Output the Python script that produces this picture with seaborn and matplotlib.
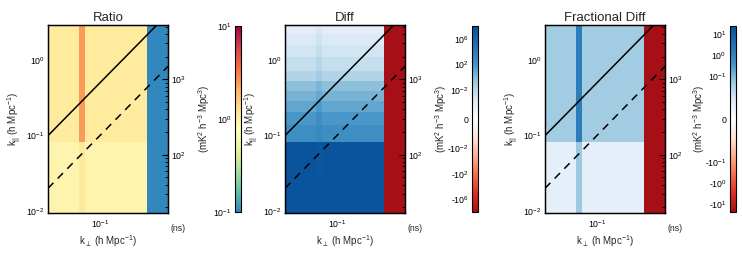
import numpy as np
import matplotlib as mpl
import matplotlib.pyplot as plt
import seaborn as sns
from matplotlib.colors import LogNorm, SymLogNorm

# cell edges (h Mpc^-1)
kperp_edges = [0.02, 0.052, 0.063, 0.43, 0.83]
kpar_edges = [0.0094, 0.0275, 0.083, 0.14, 0.203, 0.284, 0.386, 0.525, 0.71, 1.1, 1.6, 2.2, 2.93]

# values per k_par row, bottom -> top; "band" is the narrow column, "wedge" the right block
ratio_bg = [0.93, 0.93, 1.08, 1.08, 1.08, 1.08, 1.08, 1.08, 1.08, 1.08, 1.08, 1.08]
ratio_band = [1.12, 1.12, 2.5, 2.5, 2.5, 2.5, 2.5, 2.5, 2.5, 2.5, 2.5, 2.5]
ratio_wedge = 0.1

diff_bg = [5e7, 5e7, 300, 80, 15, 2.9, 0.55, 0.027, 3.6e-3, 8e-4, 3e-4, 1e-4]
diff_band = [5e7, 3e7, 1200, 320, 60, 12, 2.2, 0.11, 0.014, 3e-3, 1.2e-3, 4e-4]
diff_wedge = -1e8

frac_bg = [0.014, 0.014, 0.05, 0.05, 0.05, 0.05, 0.05, 0.05, 0.05, 0.05, 0.05, 0.05]
frac_band = [0.056, 0.056, 1.43, 1.43, 1.43, 1.43, 1.43, 1.43, 1.43, 1.43, 1.43, 1.43]
frac_wedge = -25

horizon_slope = 5.0
buffer_slope = 1.0
delay_per_kpar = 1790.0  # ns per h Mpc^-1

ratio_ticks = [0.1, 1, 10]
ratio_labels = ["10$^{-1}$", "10$^{0}$", "10$^{1}$"]
diff_ticks = [1e6, 1e2, 1e-2, 0, -1e-2, -1e2, -1e6]
diff_labels = ["10$^{6}$", "10$^{2}$", "10$^{-2}$", "0", "-10$^{-2}$", "-10$^{2}$", "-10$^{6}$"]
frac_ticks = [10, 1, 0.1, 0, -0.1, -1, -10]
frac_labels = ["10$^{1}$", "10$^{0}$", "10$^{-1}$", "0", "-10$^{-1}$", "-10$^{0}$", "-10$^{1}$"]

sns.set_style("ticks")
mpl.rcParams.update({
    "font.family": ["Liberation Sans", "DejaVu Sans"],
    "font.size": 7,
    "mathtext.default": "regular",
    "axes.edgecolor": "black",
    "axes.linewidth": 0.9,
    "xtick.labelsize": 6.3,
    "ytick.labelsize": 6.3,
    "xtick.color": "black",
    "ytick.color": "black",
})

spectral = sns.blend_palette(["#3288bd", "#66c2a5", "#abdda4", "#e6f598", "#ffffbf",
                              "#fee08b", "#fdae61", "#f46d43", "#d53e4f", "#9e0142"], as_cmap=True)
redblue = sns.blend_palette(["#a50f15", "#de2d26", "#fb6a4a", "#fcae91", "#fee5d9", "#ffffff",
                             "#deebf7", "#9ecae1", "#4292c6", "#2171b5", "#08519c"], as_cmap=True)


def make_grid(bg, band, wedge):
    bg = np.asarray(bg, dtype=float)
    return np.column_stack([bg, np.asarray(band, dtype=float), bg, np.full_like(bg, wedge)])


panels = [
    ("Ratio", make_grid(ratio_bg, ratio_band, ratio_wedge), spectral, LogNorm(0.1, 10),
     ratio_ticks, ratio_labels, 0.0647, 0.3167),
    ("Diff", make_grid(diff_bg, diff_band, diff_wedge), redblue,
     SymLogNorm(linthresh=1e-5, linscale=1.35, vmin=-1e8, vmax=1e8, base=10),
     diff_ticks, diff_labels, 0.3841, 0.6361),
    ("Fractional Diff", make_grid(frac_bg, frac_band, frac_wedge), redblue,
     SymLogNorm(linthresh=0.03, linscale=1.35, vmin=-25, vmax=25, base=10),
     frac_ticks, frac_labels, 0.7345, 0.9838),
]

fig = plt.figure(figsize=(7.42, 2.67), dpi=100)
bottom, height = 0.2022, 0.704
kx = np.geomspace(kperp_edges[0], kperp_edges[-1], 60)

for title, grid, cmap, norm, ticks, labels, x0, cx0 in panels:
    ax = fig.add_axes([x0, bottom, 0.1617, height])
    mesh = ax.pcolormesh(kperp_edges, kpar_edges, grid, cmap=cmap, norm=norm, shading="flat")
    ax.set_xscale("log")
    ax.set_yscale("log")
    sns.lineplot(x=kx, y=horizon_slope * kx, ax=ax, color="black", lw=1.1)
    sns.lineplot(x=kx, y=buffer_slope * kx, ax=ax, color="black", lw=1.1, linestyle=(0, (5, 4)))
    ax.set_xlim(kperp_edges[0], kperp_edges[-1])
    ax.set_ylim(kpar_edges[0], kpar_edges[-1])
    ax.set_title(title, fontsize=9.5, pad=3)
    ax.set_xlabel(r"k$_{\perp}$ (h Mpc$^{-1}$)", fontsize=7)
    ax.set_ylabel(r"k$_{||}$ (h Mpc$^{-1}$)", fontsize=7)
    ax.yaxis.set_label_coords(-0.20, 0.5)
    ax.xaxis.set_label_coords(0.5, -0.11)
    ax.tick_params(which="both", direction="in", top=True, right=False, pad=2.5)
    ax.tick_params(axis="x", which="both", pad=4)
    ax.tick_params(which="major", length=4, width=0.8)
    ax.tick_params(which="minor", length=2, width=0.6)
    ax.text(1.08, -0.06, "(ns)", transform=ax.transAxes, fontsize=6.3, ha="center", va="top")

    tw = ax.twinx()
    tw.set_yscale("log")
    tw.set_ylim(kpar_edges[0] * delay_per_kpar, kpar_edges[-1] * delay_per_kpar)
    tw.tick_params(which="both", direction="in", pad=2.5)
    tw.tick_params(which="major", length=4, width=0.8)
    tw.tick_params(which="minor", length=2, width=0.6)
    for s in tw.spines.values():
        s.set_linewidth(0.9)

    cax = fig.add_axes([cx0, bottom + 0.003, 0.0081, height - 0.006])
    cb = fig.colorbar(mesh, cax=cax)
    cb.set_ticks(ticks)
    cb.set_ticklabels(labels)
    if title != "Ratio":
        cb.minorticks_off()
    cb.outline.set_linewidth(0.8)
    cax.yaxis.set_ticks_position("left")
    cax.yaxis.set_label_position("left")
    cax.tick_params(which="both", direction="in", length=2, width=0.6, labelsize=6.3, pad=2.5)
    cb.set_label(r"(mK$^2$ h$^{-3}$ Mpc$^3$)", fontsize=7)
    cax.yaxis.set_label_coords(-3.9, 0.5)

fig.savefig("out.png", dpi=100)
